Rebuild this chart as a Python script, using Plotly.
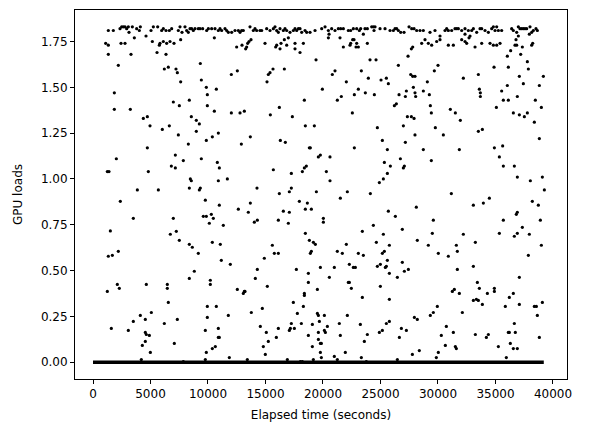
"""
plot.py - GPU loads over elapsed time (scatter)
"""
import plotly.graph_objects as go

# (elapsed seconds, load), split by time window
window_0_6k = [
    (1334, 1.81), (1769, 1.81), (2349, 1.82), (2494, 1.83), (2639, 1.83), (2784, 1.83),
    (2928, 1.82), (3073, 1.83), (3131, 1.80), (3421, 1.83), (3595, 1.77), (3798, 1.82),
    (4030, 1.81), (4117, 1.83), (4610, 1.78), (5045, 1.81), (5248, 1.83), (5625, 1.83),
    (1102, 1.74), (1334, 1.73), (2436, 1.74), (2784, 1.74), (5161, 1.75), (5770, 1.73),
    (1334, 1.68), (3305, 1.68), (5567, 1.69), (2204, 1.62), (1856, 1.47), (1856, 1.38),
    (3247, 1.38), (4378, 1.33), (4726, 1.34), (4958, 1.29), (4726, 1.17), (2030, 1.11),
    (1247, 1.04), (1392, 1.04), (4813, 1.04), (3856, 0.94), (5683, 0.94),
    (2378, 0.878), (3508, 0.785), (1508, 0.716), (2204, 0.605), (1334, 0.578), (1682, 0.583),
    (2117, 0.424), (2291, 0.403), (1247, 0.386), (4639, 0.424), (5074, 0.271), (4117, 0.255),
    (4552, 0.233), (3508, 0.222), (1595, 0.184), (3073, 0.173), (4552, 0.162), (4639, 0.151),
    (4900, 0.146), (4552, 0.113), (4291, 0.091), (4987, 0.053), (4204, 0.014),
]

window_6k_13k = [
    (5971, 1.81), (6116, 1.82), (6348, 1.81), (6638, 1.81), (6841, 1.82), (7421, 1.81),
    (7566, 1.83), (7740, 1.80), (8000, 1.83), (8145, 1.81), (8290, 1.80), (8435, 1.82),
    (8580, 1.82), (8725, 1.81), (8870, 1.82), (9160, 1.82), (9305, 1.82), (9537, 1.82),
    (9885, 1.81), (10030, 1.82), (10320, 1.82), (10610, 1.82), (10900, 1.81), (11044, 1.82),
    (11189, 1.81), (11479, 1.82), (11624, 1.81), (11769, 1.80), (12059, 1.80), (12349, 1.81),
    (12639, 1.81), (12784, 1.80), (12929, 1.81), (13074, 1.81),
    (5826, 1.74), (6116, 1.75), (6406, 1.74), (6696, 1.75), (7044, 1.74), (7624, 1.76),
    (10552, 1.77), (12494, 1.72), (12958, 1.73), (6348, 1.68), (6203, 1.60), (6551, 1.61),
    (7218, 1.60), (7334, 1.58), (7624, 1.53), (9334, 1.63), (9421, 1.54), (12030, 1.57),
    (12552, 1.59), (9856, 1.50), (10726, 1.49), (9943, 1.46), (6986, 1.42), (7508, 1.40),
    (8377, 1.43), (9943, 1.40), (10552, 1.37), (12030, 1.36), (12784, 1.36), (13161, 1.37),
    (8551, 1.34), (8986, 1.32), (9247, 1.30), (6029, 1.27), (6638, 1.29), (7421, 1.24),
    (8986, 1.26), (10900, 1.25), (10378, 1.23), (9856, 1.21), (8290, 1.19), (12900, 1.19),
    (7160, 1.13), (7856, 1.10), (9421, 1.11), (10813, 1.09), (10986, 1.06), (6812, 1.07),
    (7160, 1.06), (8464, 1.00), (8551, 0.99), (10900, 0.99), (11682, 1.00), (8377, 0.95),
    (9334, 0.95), (9247, 0.94),
    (9769, 0.884), (10986, 0.857), (12639, 0.835), (6986, 0.785), (9595, 0.796), (9856, 0.796),
    (10291, 0.807), (10465, 0.785), (10117, 0.758), (11334, 0.747), (6725, 0.698), (7247, 0.714),
    (7508, 0.665), (8377, 0.643), (8638, 0.627), (10378, 0.654), (11073, 0.643), (9160, 0.594),
    (11160, 0.556), (11943, 0.534), (8812, 0.496), (8377, 0.457), (10204, 0.447), (10204, 0.424),
    (6464, 0.424), (6464, 0.403), (12552, 0.397), (13074, 0.375), (13161, 0.386), (6551, 0.326),
    (9943, 0.304), (10726, 0.304), (11769, 0.255), (9943, 0.244), (6203, 0.211), (7334, 0.233),
    (9769, 0.173), (10900, 0.184), (10900, 0.135), (10986, 0.135), (7073, 0.102), (10639, 0.085),
    (10378, 0.074), (9856, 0.053), (11856, 0.025), (9769, 0.014), (7856, 0.003),
]

window_13k_20k = [
    (13653, 1.83), (13943, 1.81), (14088, 1.82), (14233, 1.81), (14523, 1.81), (14668, 1.81),
    (15103, 1.82), (15393, 1.81), (15683, 1.82), (15828, 1.83), (15973, 1.81), (16118, 1.80),
    (16263, 1.82), (16553, 1.81), (16698, 1.82), (16843, 1.81), (17133, 1.80), (17423, 1.81),
    (17568, 1.82), (17713, 1.81), (17858, 1.82), (18003, 1.82), (18148, 1.80), (18438, 1.81),
    (18583, 1.80), (18873, 1.80), (19308, 1.81), (19888, 1.82), (20178, 1.83), (20468, 1.81),
    (20526, 1.79),
    (13740, 1.76), (13566, 1.75), (13450, 1.74), (13363, 1.72), (13276, 1.71), (14958, 1.74),
    (15973, 1.73), (15886, 1.72), (16350, 1.74), (16640, 1.76), (16988, 1.77), (16843, 1.73),
    (16263, 1.71), (17568, 1.74), (18293, 1.74), (17568, 1.71), (18003, 1.69), (20468, 1.77),
    (19395, 1.65), (16640, 1.60), (15654, 1.60), (15393, 1.58), (15248, 1.57), (15132, 1.53),
    (19946, 1.49), (18380, 1.43), (16205, 1.39), (15422, 1.35), (17336, 1.34), (18467, 1.29),
    (19250, 1.29), (13682, 1.23), (16292, 1.21), (16727, 1.20), (18815, 1.17), (18902, 1.17),
    (19598, 1.12), (19772, 1.13), (18554, 1.07), (18380, 1.06), (18206, 1.04), (15683, 1.05),
    (17249, 1.03), (20294, 1.04), (14262, 0.95), (17249, 0.95), (17075, 0.93), (16205, 0.92),
    (19424, 0.93),
    (13682, 0.868), (13508, 0.818), (17945, 0.878), (18641, 0.868), (18467, 0.835), (18989, 0.835),
    (16553, 0.824), (17075, 0.818), (14030, 0.764), (14291, 0.775), (16118, 0.775), (16988, 0.758),
    (20033, 0.785), (20033, 0.764), (18467, 0.703), (18815, 0.665), (19163, 0.654), (19337, 0.643),
    (15596, 0.638), (15770, 0.594), (16118, 0.594), (18989, 0.605), (18902, 0.594), (14900, 0.567),
    (19772, 0.517), (14291, 0.506), (17684, 0.506), (18728, 0.485), (14117, 0.457), (20555, 0.463),
    (18728, 0.435), (15161, 0.414), (19511, 0.397), (13218, 0.386), (18380, 0.375), (18380, 0.364),
    (17423, 0.326), (18293, 0.304), (14726, 0.293), (13769, 0.271), (17771, 0.266), (19511, 0.266),
    (19598, 0.255), (20120, 0.255), (19685, 0.222), (18119, 0.211), (17249, 0.211), (19076, 0.206),
    (20381, 0.195), (14552, 0.195), (17162, 0.184), (17075, 0.173), (17510, 0.184), (16118, 0.184),
    (20120, 0.173), (20207, 0.162), (15074, 0.162), (19598, 0.162), (18728, 0.146), (15944, 0.135),
    (19598, 0.124), (15248, 0.113), (19772, 0.102), (19859, 0.102), (14813, 0.085), (19076, 0.085),
    (19772, 0.053), (14987, 0.042), (19859, 0.025), (13421, 0.014), (16901, 0.014), (18032, 0.003),
    (18206, 0.003), (19163, 0.014),
]

window_20k_28k = [
    (20755, 1.82), (21045, 1.81), (21335, 1.82), (21538, 1.82), (21770, 1.82), (22205, 1.81),
    (22408, 1.81), (22640, 1.82), (22930, 1.82), (23162, 1.81), (23278, 1.82), (23510, 1.79),
    (23655, 1.82), (23858, 1.82), (24235, 1.83), (24380, 1.83), (24438, 1.81), (24525, 1.83),
    (24960, 1.82), (25395, 1.82), (25830, 1.81), (26120, 1.81), (26265, 1.82), (26410, 1.82),
    (26555, 1.81), (26758, 1.80), (27048, 1.80), (27483, 1.83), (27715, 1.82), (27918, 1.82),
    (21480, 1.77), (21770, 1.72), (22350, 1.73), (22408, 1.74), (22582, 1.76), (22698, 1.76),
    (22930, 1.74), (22872, 1.72), (23075, 1.72), (23858, 1.74), (27802, 1.72), (27686, 1.71),
    (27396, 1.67), (24090, 1.65), (24612, 1.65), (26555, 1.62), (21045, 1.59), (20813, 1.57),
    (23336, 1.59), (22031, 1.53), (23945, 1.55), (25047, 1.54), (25511, 1.55), (25685, 1.52),
    (27628, 1.57), (27802, 1.56), (27860, 1.50), (27251, 1.48), (26613, 1.46), (27164, 1.45),
    (23075, 1.49), (22727, 1.46), (23684, 1.47), (24467, 1.46), (21596, 1.45), (21248, 1.43),
    (26381, 1.41), (26207, 1.40), (27338, 1.34), (27686, 1.34), (27918, 1.33), (22553, 1.36),
    (26990, 1.29), (24728, 1.28), (25163, 1.21), (27164, 1.20), (22727, 1.17), (25598, 1.16),
    (20610, 1.12), (26729, 1.11), (25337, 1.09), (25859, 1.07), (27077, 1.07), (26990, 1.06),
    (25598, 1.03), (25250, 1.00), (24902, 0.98), (20610, 0.99), (22118, 0.93), (24119, 0.92),
    (21509, 0.895), (25685, 0.824), (26294, 0.796), (24380, 0.747), (23423, 0.714), (26900, 0.725),
    (25250, 0.698), (24641, 0.654), (25772, 0.638), (22031, 0.643), (21248, 0.605), (21683, 0.594),
    (23075, 0.594), (23510, 0.583), (25163, 0.594), (25337, 0.605), (25598, 0.556), (26900, 0.545),
    (20987, 0.517), (22292, 0.534), (22640, 0.517), (22814, 0.517), (24728, 0.523), (24989, 0.534),
    (25511, 0.523), (25424, 0.517), (27425, 0.506), (27077, 0.496), (25772, 0.485), (26468, 0.463),
    (22205, 0.435), (22292, 0.435), (22466, 0.403), (24989, 0.414), (23423, 0.353), (25772, 0.343),
    (22118, 0.255), (27947, 0.244), (21422, 0.211), (23249, 0.206), (25511, 0.211), (25772, 0.222),
    (26816, 0.184), (27251, 0.173), (25163, 0.173), (24902, 0.162), (21509, 0.146), (23858, 0.151),
    (26642, 0.135), (23597, 0.113), (21944, 0.053), (27773, 0.042), (20987, 0.031), (21248, 0.014),
    (23336, 0.025), (23771, 0.003), (26468, 0.014),
]

window_28k_35k = [
    (28146, 1.81), (28436, 1.81), (28726, 1.81), (29306, 1.80), (29741, 1.81), (30611, 1.81),
    (30756, 1.82), (30901, 1.81), (31191, 1.81), (31481, 1.82), (31626, 1.82), (31771, 1.82),
    (32061, 1.81), (32351, 1.82), (32641, 1.81), (32931, 1.81), (33076, 1.82), (33366, 1.80),
    (33656, 1.82), (33801, 1.82), (34091, 1.81), (34381, 1.80), (34671, 1.82), (34961, 1.81),
    (35251, 1.81), (35106, 1.83), (34816, 1.83), (30176, 1.78), (32351, 1.79), (32786, 1.78),
    (28581, 1.74), (28871, 1.76), (29161, 1.74), (29451, 1.73), (29886, 1.75), (30176, 1.76),
    (30901, 1.73), (31336, 1.73), (32061, 1.76), (32351, 1.75), (32496, 1.74), (32699, 1.77),
    (33221, 1.72), (33801, 1.74), (34526, 1.74), (34816, 1.73), (35106, 1.73), (35396, 1.74),
    (30002, 1.62), (29683, 1.59), (28001, 1.56), (34874, 1.61), (33511, 1.57), (32206, 1.55),
    (29074, 1.53), (28726, 1.48), (28001, 1.47), (28059, 1.45), (29248, 1.46), (33598, 1.49),
    (33685, 1.47), (33685, 1.45), (29335, 1.40), (29422, 1.36), (35077, 1.39), (31075, 1.38),
    (31510, 1.36), (31945, 1.32), (29770, 1.28), (30466, 1.24), (28001, 1.24), (33511, 1.26),
    (33859, 1.27), (28726, 1.16), (31858, 1.16), (29422, 1.10), (34903, 1.17), (35338, 1.12),
    (31162, 0.92),
    (28117, 0.846), (29596, 0.775), (33076, 0.857), (33946, 0.868), (34468, 0.895), (29509, 0.703),
    (32206, 0.698), (35338, 0.703), (28204, 0.665), (29161, 0.638), (30031, 0.594), (30901, 0.578),
    (31597, 0.638), (31684, 0.605), (33250, 0.654), (31684, 0.506), (33076, 0.523), (33424, 0.435),
    (33598, 0.403), (34903, 0.403), (34903, 0.386), (34294, 0.375), (31858, 0.375), (31249, 0.386),
    (31423, 0.397), (33076, 0.337), (33337, 0.343), (33511, 0.337), (33859, 0.315), (29944, 0.304),
    (29596, 0.271), (29335, 0.255), (32119, 0.271), (28204, 0.233), (30727, 0.195), (30292, 0.146),
    (31336, 0.162), (33250, 0.151), (34381, 0.151), (34207, 0.135), (35251, 0.085), (30640, 0.091),
    (31510, 0.085), (31597, 0.074), (28378, 0.063), (30031, 0.053), (29857, 0.025),
]

window_35k_40k = [
    (35538, 1.81), (36408, 1.82), (36553, 1.81), (36843, 1.80), (36988, 1.83), (37133, 1.82),
    (37278, 1.82), (37423, 1.82), (37568, 1.82), (37713, 1.82), (38003, 1.83), (38293, 1.81),
    (38525, 1.82), (38641, 1.81), (38148, 1.80),
    (37945, 1.79), (36988, 1.78), (36785, 1.76), (36698, 1.73), (36843, 1.73), (37336, 1.72),
    (38148, 1.73), (38235, 1.74), (36321, 1.70), (36031, 1.67), (37191, 1.68), (37771, 1.64),
    (36118, 1.61), (37858, 1.60), (37075, 1.56), (39163, 1.56), (37423, 1.52), (36031, 1.51),
    (38815, 1.51), (35538, 1.48), (35683, 1.43), (36118, 1.43), (36901, 1.45), (38467, 1.43),
    (38989, 1.39), (36553, 1.36), (37075, 1.35), (37510, 1.34), (37771, 1.36), (38380, 1.31),
    (38815, 1.22), (35625, 1.18), (35683, 1.07), (36640, 1.07), (36901, 1.01), (38032, 0.99),
    (39076, 1.01), (39250, 0.94),
    (38205, 0.878), (38728, 0.857), (36814, 0.807), (36901, 0.818), (35683, 0.775), (38902, 0.775),
    (37336, 0.736), (36640, 0.687), (36901, 0.703), (37945, 0.698), (38989, 0.638), (37858, 0.583),
    (37075, 0.463), (36553, 0.375), (36205, 0.353), (35857, 0.304), (37075, 0.315), (38380, 0.304),
    (38554, 0.304), (39076, 0.326), (38641, 0.255), (36640, 0.211), (36118, 0.162), (36205, 0.162),
    (36727, 0.162), (38815, 0.135), (36292, 0.102), (36553, 0.074), (36901, 0.074), (35944, 0.025),
]

# idle samples: load 0 over the whole run, drawn as one dense band
idle_span_s = [0, 39200]
idle_load = [0, 0]

x_ticks = [0, 5000, 10000, 15000, 20000, 25000, 30000, 35000, 40000]
y_ticks = [0.00, 0.25, 0.50, 0.75, 1.00, 1.25, 1.50, 1.75]

points = (window_0_6k + window_6k_13k + window_13k_20k
          + window_20k_28k + window_28k_35k + window_35k_40k)
elapsed = [p[0] for p in points]
loads = [p[1] for p in points]

fig = go.Figure()

fig.add_trace(go.Scatter(
    x=idle_span_s, y=idle_load, mode='lines',
    line=dict(color='black', width=3.5),
    hoverinfo='skip', showlegend=False
))

fig.add_trace(go.Scatter(
    x=elapsed, y=loads, mode='markers',
    marker=dict(color='black', size=3.2, line=dict(width=0)),
    hovertemplate='t=%{x}s<br>load=%{y}<extra></extra>',
    showlegend=False
))

axis_font = dict(family='DejaVu Sans, sans-serif', size=12, color='black')

# the page body adds an 8px offset, so the figure is 8px smaller and margins shifted
fig.update_layout(
    width=581, height=424,
    plot_bgcolor='white', paper_bgcolor='white',
    font=axis_font,
    margin=dict(l=67, r=22, t=2, b=53),
    xaxis=dict(
        range=[-1565, 41219], tickvals=x_ticks, tickformat='d',
        showgrid=False, zeroline=False,
        showline=True, linecolor='black', linewidth=1, mirror=True,
        ticks='outside', ticklen=4, tickcolor='black',
        title=dict(text='Elapsed time (seconds)', standoff=10, font=axis_font),
        tickfont=axis_font
    ),
    yaxis=dict(
        range=[-0.092, 1.922], tickvals=y_ticks, tickformat='.2f',
        showgrid=False, zeroline=False,
        showline=True, linecolor='black', linewidth=1, mirror=True,
        ticks='outside', ticklen=4, tickcolor='black',
        title=dict(text='GPU loads', standoff=15, font=axis_font),
        tickfont=axis_font
    )
)

fig.write_html("out.html")
